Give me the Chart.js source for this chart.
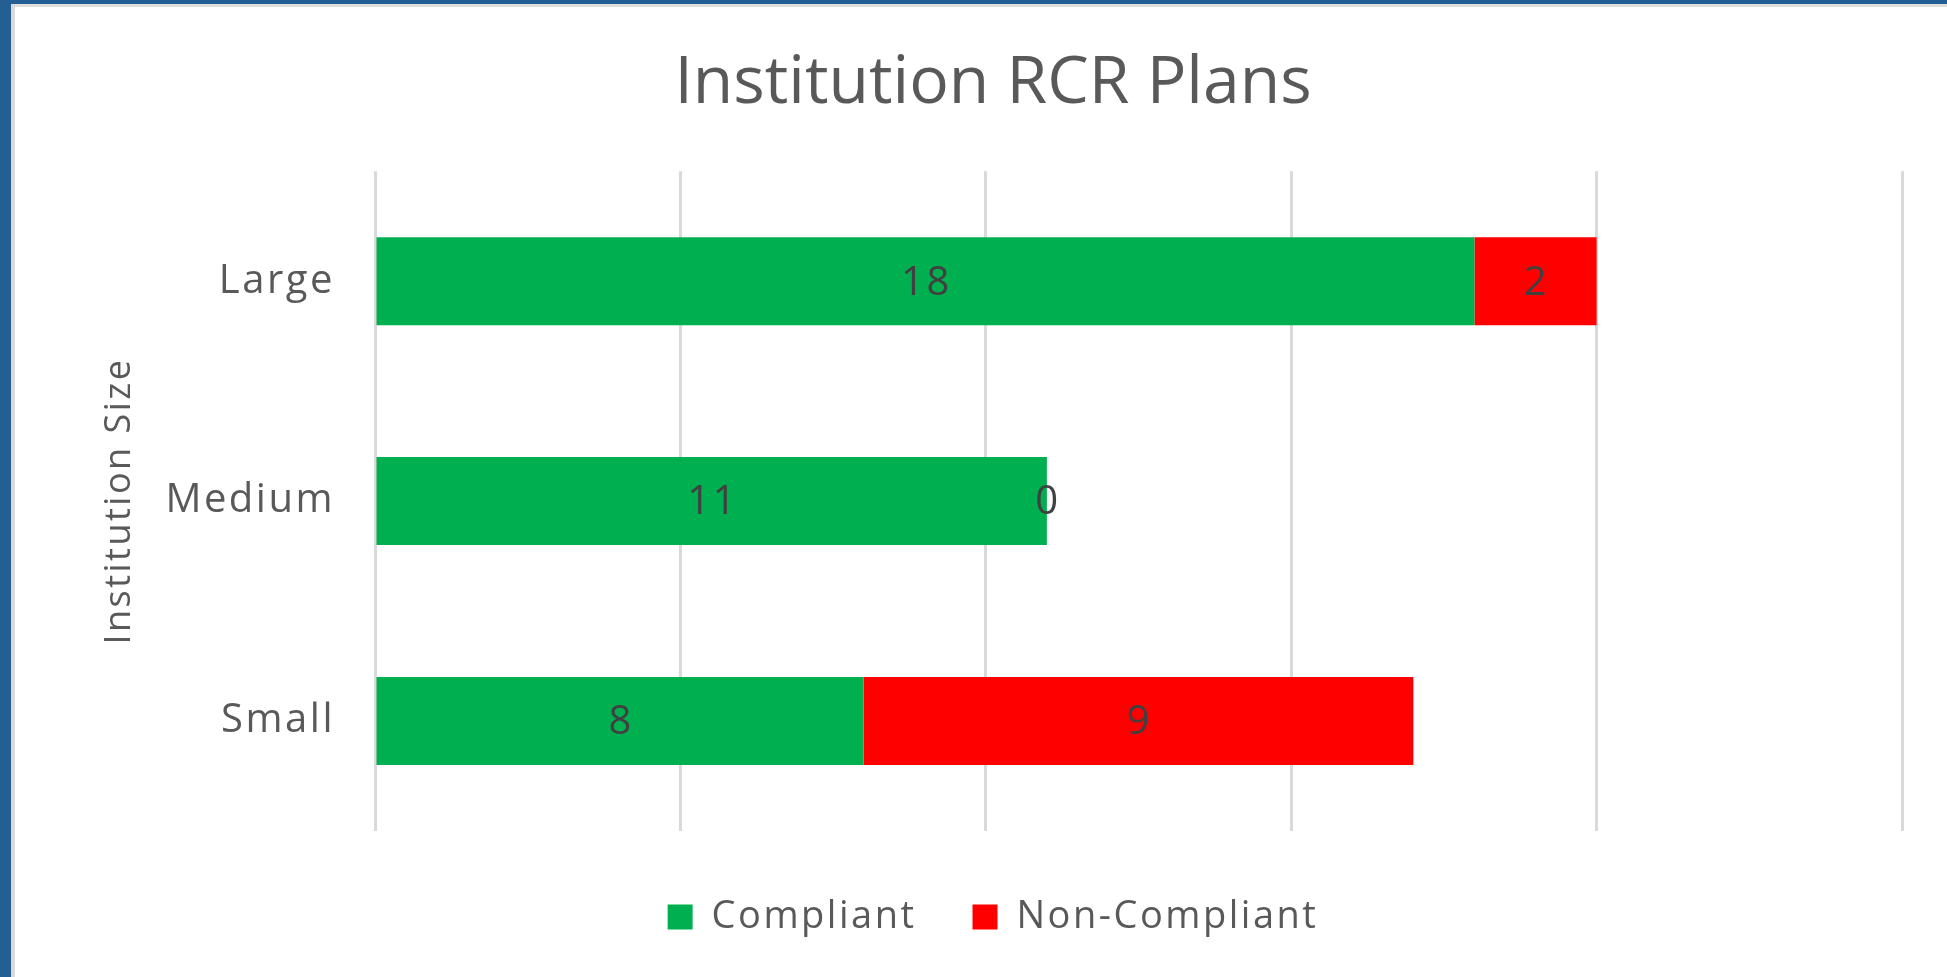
<!DOCTYPE html>
<html>
<head>
<meta charset="utf-8">
<title>Institution RCR Plans</title>
<script src="https://cdn.jsdelivr.net/npm/chart.js@4/dist/chart.umd.min.js"></script>
<style>
  html, body { margin: 0; padding: 0; background: #fff; overflow: hidden; }
  #frame { position: absolute; left: 0; top: 0; width: 1947px; height: 977px; }
  #bandLeft { position: absolute; left: 0; top: 0; width: 11px; height: 977px; background: #235f92; }
  #bandTop { position: absolute; left: 0; top: 0; width: 1947px; height: 4px; background: #235f92; }
  #edgeLeft { position: absolute; left: 11px; top: 4px; width: 4px; height: 973px; background: #d9d9d9; }
  #edgeTop { position: absolute; left: 11px; top: 4px; width: 1936px; height: 3px; background: #dedede; }
  #chartRcr { position: absolute; left: 0; top: 0; }
</style>
</head>
<body>
<div id="frame">
  <div id="bandTop"></div>
  <div id="bandLeft"></div>
  <div id="edgeTop"></div>
  <div id="edgeLeft"></div>
  <canvas id="chartRcr" width="1947" height="977"></canvas>
</div>
<script>
// data
const sizes = ['Large', 'Medium', 'Small'];
const compliant = [18, 11, 8];
const nonCompliant = [2, 0, 9];
const xTicks = [0, 5, 10, 15, 20, 25];

const FONT = "'Open Sans', 'Noto Sans', sans-serif";
const GREY_TXT = '#595959';
const SPACING = '2.5px';

// the small texts in the picture are spread out a bit, the title is not
const letterSpacing = {
    id: 'letterSpacing',
    afterInit(chart) {
        const tb = chart.titleBlock;
        const drawTitle = tb.draw.bind(tb);
        tb.draw = (area) => {
            const c = chart.ctx;
            const keep = c.letterSpacing;
            c.letterSpacing = '0px';
            drawTitle(area);
            c.letterSpacing = keep;
        };
    },
    beforeLayout(chart) { chart.ctx.letterSpacing = SPACING; },
    beforeDraw(chart) { chart.ctx.letterSpacing = SPACING; }
};

// draws the value in the middle of each bar segment
const segmentLabels = {
    id: 'segmentLabels',
    afterDatasetsDraw(chart) {
        const ctx = chart.ctx;
        ctx.save();
        ctx.font = '40px ' + FONT;
        ctx.fillStyle = '#404040';
        ctx.textAlign = 'center';
        ctx.textBaseline = 'middle';
        chart.data.datasets.forEach((ds, i) => {
            const meta = chart.getDatasetMeta(i);
            meta.data.forEach((bar, j) => {
                const p = bar.getProps(['x', 'y', 'base'], true);
                ctx.fillText(String(ds.data[j]), (p.x + p.base) / 2 + 1, p.y + 2);
            });
        });
        ctx.restore();
    }
};

const ctx = document.getElementById('chartRcr');

new Chart(ctx.getContext('2d'), {
    type: 'bar',
    data: {
        labels: sizes,
        datasets: [
            {
                label: 'Compliant',
                data: compliant,
                backgroundColor: '#00b050',
                borderWidth: 0,
                barPercentage: 0.4,
                categoryPercentage: 1
            },
            {
                label: 'Non-Compliant',
                data: nonCompliant,
                backgroundColor: '#ff0000',
                borderWidth: 0,
                barPercentage: 0.4,
                categoryPercentage: 1
            }
        ]
    },
    options: {
        indexAxis: 'y',
        responsive: false,
        animation: false,
        layout: { padding: { left: 84, right: 45, top: 0, bottom: 31 } },
        plugins: {
            title: {
                display: true,
                text: 'Institution RCR Plans',
                color: GREY_TXT,
                font: { family: FONT, size: 66, weight: 'normal' },
                padding: { top: 45, bottom: 47 }
            },
            legend: {
                position: 'bottom',
                labels: {
                    color: GREY_TXT,
                    font: { family: FONT, size: 38 },
                    boxWidth: 25,
                    boxHeight: 25,
                    padding: 56
                }
            },
            tooltip: { enabled: false }
        },
        scales: {
            x: {
                stacked: true,
                min: 0,
                max: 25,
                afterBuildTicks: (scale) => { scale.ticks = xTicks.map(v => ({ value: v })); },
                ticks: { display: false },
                grid: { color: '#d9d9d9', lineWidth: 3, drawTicks: false },
                border: { display: false },
                afterFit: (scale) => {
                    scale.height = Math.max(0, 977 - 831 - scale.chart.legend.height - 31);
                }
            },
            y: {
                stacked: true,
                ticks: {
                    color: GREY_TXT,
                    font: { family: FONT, size: 40 },
                    padding: 40
                },
                grid: { display: false, drawTicks: false },
                border: { display: false },
                title: {
                    display: true,
                    text: 'Institution Size',
                    color: GREY_TXT,
                    font: { family: FONT, size: 36 },
                    padding: { top: 14, bottom: 0 }
                },
                afterFit: (scale) => { scale.width = 375 - 84; }
            }
        }
    },
    plugins: [letterSpacing, segmentLabels]
});
</script>
</body>
</html>
